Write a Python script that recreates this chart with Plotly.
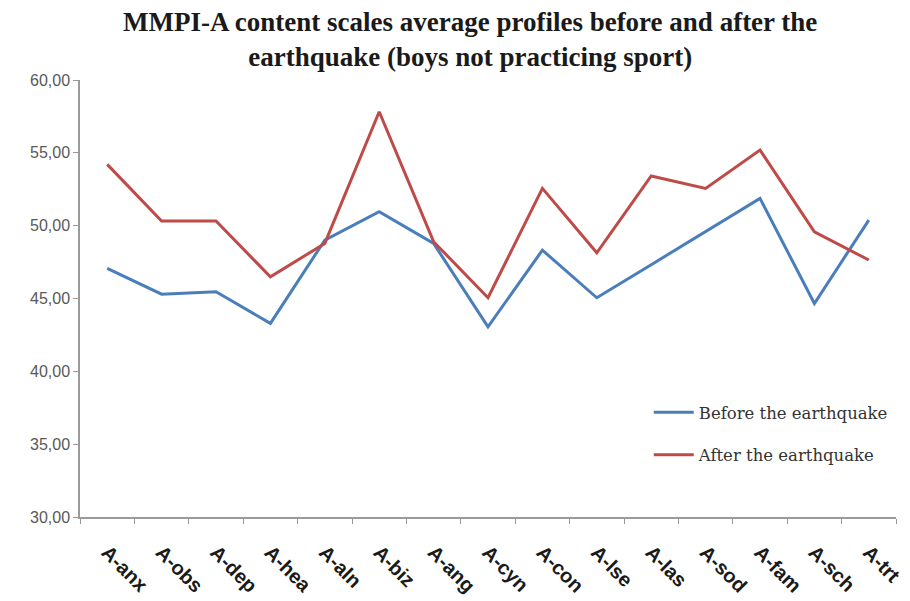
import plotly.graph_objects as go

categories = ["A-anx", "A-obs", "A-dep", "A-hea", "A-aln", "A-biz", "A-ang", "A-cyn",
              "A-con", "A-lse", "A-las", "A-sod", "A-fam", "A-sch", "A-trt"]
before = [47.07, 45.30, 45.46, 43.29, 49.01, 50.96, 48.78, 43.06,
          48.32, 45.05, 47.32, 49.58, 51.87, 44.66, 50.38]
after = [54.21, 50.32, 50.32, 46.49, 48.78, 57.82, 48.90, 45.05,
         52.56, 48.14, 53.41, 52.56, 55.19, 49.58, 47.64]
y_ticks = [30, 35, 40, 45, 50, 55, 60]
y_tick_labels = ["30,00", "35,00", "40,00", "45,00", "50,00", "55,00", "60,00"]
title_text = "MMPI-A content scales average profiles before and after the<br>earthquake (boys not practicing sport)"

fig = go.Figure()
fig.add_trace(go.Scatter(x=categories, y=before, mode="lines", name="Before the earthquake",
                         line=dict(color="#4A7EBB", width=3), legendgroup="b"))
fig.add_trace(go.Scatter(x=categories, y=after, mode="lines", name="After the earthquake",
                         line=dict(color="#BE4B48", width=3), legendgroup="a"))

fig.add_annotation(
    text="<b>" + title_text + "</b>", xref="paper", yref="paper",
    x=0.478, y=1.172, xanchor="center", yanchor="top", showarrow=False,
    font=dict(family="Liberation Serif", size=27, color="#1a1a1a"),
)

fig.update_layout(
    width=910, height=601,
    margin=dict(l=80, r=14, t=80, b=84, autoexpand=False),
    paper_bgcolor="white", plot_bgcolor="white",
    showlegend=True,
    legend=dict(
        x=0.697, y=0.279, xanchor="left", yanchor="top",
        font=dict(family="DejaVu Serif", size=16.5, color="#333333"),
        bgcolor="rgba(0,0,0,0)", tracegroupgap=18, traceorder="grouped",
        itemwidth=40,
    ),
    xaxis=dict(
        type="category", range=[-0.5, 14.5], showgrid=False, automargin=False,
        showline=True, linecolor="#9a9a9a", linewidth=1.5,
        ticks="outside", tickson="boundaries", ticklen=5, tickcolor="#9a9a9a",
        tickangle=45, ticklabelstandoff=14,
        tickfont=dict(family="Liberation Sans", size=20, color="#1a1a1a"),
        tickvals=categories, ticktext=["<b>" + c + "</b>" for c in categories],
    ),
    yaxis=dict(
        range=[30, 60], showgrid=False, zeroline=False, automargin=False,
        showline=True, linecolor="#9a9a9a", linewidth=1.5,
        ticks="outside", ticklen=5, tickcolor="#9a9a9a",
        tickvals=y_ticks, ticktext=y_tick_labels,
        tickfont=dict(family="Liberation Sans", size=16, color="#595959"),
    ),
)

fig.write_html("out.html")
